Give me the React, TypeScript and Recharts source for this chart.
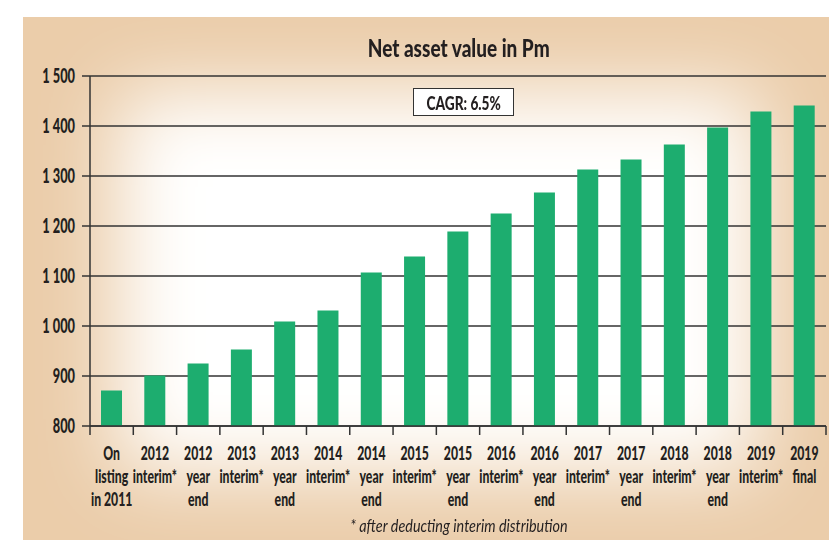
import React from 'react';
import { BarChart, Bar, XAxis, YAxis, CartesianGrid } from 'recharts';

// Periods shown on the x axis (line breaks as in the original)
const periods = [
  'On\nlisting\nin 2011',
  '2012\ninterim*',
  '2012\nyear\nend',
  '2013\ninterim*',
  '2013\nyear\nend',
  '2014\ninterim*',
  '2014\nyear\nend',
  '2015\ninterim*',
  '2015\nyear\nend',
  '2016\ninterim*',
  '2016\nyear\nend',
  '2017\ninterim*',
  '2017\nyear\nend',
  '2018\ninterim*',
  '2018\nyear\nend',
  '2019\ninterim*',
  '2019\nfinal',
];

// Net asset value, Pm
const navValues = [871, 901, 925, 953, 1009, 1031, 1107, 1139, 1189, 1225, 1267, 1313, 1333, 1363, 1397, 1429, 1441];

const yTicks = [800, 900, 1000, 1100, 1200, 1300, 1400, 1500];

const chartTitle = 'Net asset value in Pm';
const cagrText = 'CAGR: 6.5%';
const footnote = '* after deducting interim distribution';

const W = 829;
const H = 540;
const margin = { top: 76, right: 3, bottom: 0, left: 0 };
const Y_AXIS_W = 90;
const X_AXIS_H = 114;
const BAND = (W - margin.left - margin.right - Y_AXIS_W) / periods.length;

// no condensed face installed, so a humanist sans is squeezed horizontally
const FONT = "Lato, 'Open Sans', sans-serif";
const HEAVY = 900;
const SQUEEZE = 0.68;
const INK = '#231f20';
const LINE = '#333';
const GREEN = '#1dad6f';

const data = periods.map((period, i) => ({ period, value: navValues[i] }));

const fmtY = (v: number) =>
  v >= 1000 ? `${Math.floor(v / 1000)} ${String(v % 1000).padStart(3, '0')}` : String(v);

const PeriodTick = ({ x, y, payload, index }: any) => {
  const lines = String(payload.value).split('\n');
  return (
    <g>
      {index === 0 && (
        <line x1={x - BAND / 2} x2={x - BAND / 2} y1={y} y2={y + 9} stroke={LINE} strokeWidth={1.5} />
      )}
      <line x1={x + BAND / 2} x2={x + BAND / 2} y1={y} y2={y + 9} stroke={LINE} strokeWidth={1.5} />
      <g transform={`translate(${x},${y}) scale(${SQUEEZE},1)`}>
        <text textAnchor="middle" fontFamily={FONT} fontWeight={HEAVY} fontSize={18} fill={INK}>
          {lines.map((ln, i) => (
            <tspan key={i} x={0} y={34 + i * 23}>
              {ln}
            </tspan>
          ))}
        </text>
      </g>
    </g>
  );
};

const ValueTick = ({ x, y, payload }: any) => (
  <g transform={`translate(${x},${y}) scale(0.64,1)`}>
    <text textAnchor="end" dy="0.36em" fontFamily={FONT} fontWeight={HEAVY} fontSize={20} fill={INK}>
      {fmtY(payload.value)}
    </text>
  </g>
);

export default function App() {
  return (
    <div style={{ position: 'absolute', left: 0, top: 0, width: W, height: H, background: '#fff', overflow: 'hidden' }}>
      {/* beige panel with a soft white centre */}
      <div style={{ position: 'absolute', left: 23, top: 17, width: W - 23, height: H - 17, background: '#ebcdaa', overflow: 'hidden' }}>
        <div
          style={{
            position: 'absolute',
            left: 95,
            top: 75,
            width: 640,
            height: 380,
            background: '#ffffff',
            filter: 'blur(40px)',
          }}
        />
      </div>

      <div style={{ position: 'absolute', left: 0, top: 0 }}>
        <BarChart width={W} height={H} data={data} margin={margin}>
          <CartesianGrid vertical={false} stroke={LINE} strokeWidth={1.5} />
          <XAxis
            dataKey="period"
            interval={0}
            height={X_AXIS_H}
            tickLine={false}
            tickSize={0}
            tickMargin={0}
            axisLine={{ stroke: LINE, strokeWidth: 1.5 }}
            tick={<PeriodTick />}
          />
          <YAxis
            width={Y_AXIS_W}
            domain={[800, 1500]}
            ticks={yTicks}
            interval={0}
            allowDataOverflow
            tickSize={8}
            tickMargin={7}
            tickLine={{ stroke: LINE, strokeWidth: 1.5 }}
            axisLine={{ stroke: LINE, strokeWidth: 1.5 }}
            tick={<ValueTick />}
          />
          <Bar dataKey="value" fill={GREEN} barSize={21} isAnimationActive={false} />
        </BarChart>
      </div>

      <div
        style={{
          position: 'absolute',
          left: 0,
          width: W + 88,
          top: 32,
          textAlign: 'center',
          fontFamily: FONT,
          fontWeight: HEAVY,
          fontSize: 25,
          color: INK,
          lineHeight: '30px',
        }}
      >
        <span style={{ display: 'inline-block', transform: 'scaleX(0.76)' }}>{chartTitle}</span>
      </div>

      <div
        style={{
          position: 'absolute',
          left: 413,
          top: 88,
          width: 99,
          height: 26,
          border: `1.5px solid ${LINE}`,
          background: '#fff',
          display: 'flex',
          alignItems: 'center',
          justifyContent: 'center',
          fontFamily: FONT,
          fontWeight: HEAVY,
          fontSize: 19,
          color: INK,
          whiteSpace: 'nowrap',
        }}
      >
        <span style={{ display: 'inline-block', transform: 'scaleX(0.72)' }}>{cagrText}</span>
      </div>

      <div
        style={{
          position: 'absolute',
          left: 0,
          width: W + 88,
          top: 515,
          textAlign: 'center',
          fontFamily: FONT,
          fontStyle: 'italic',
          fontSize: 18,
          color: INK,
          whiteSpace: 'nowrap',
          lineHeight: '20px',
        }}
      >
        <span style={{ display: 'inline-block', transform: 'scaleX(0.8)' }}>{footnote}</span>
      </div>
    </div>
  );
}
